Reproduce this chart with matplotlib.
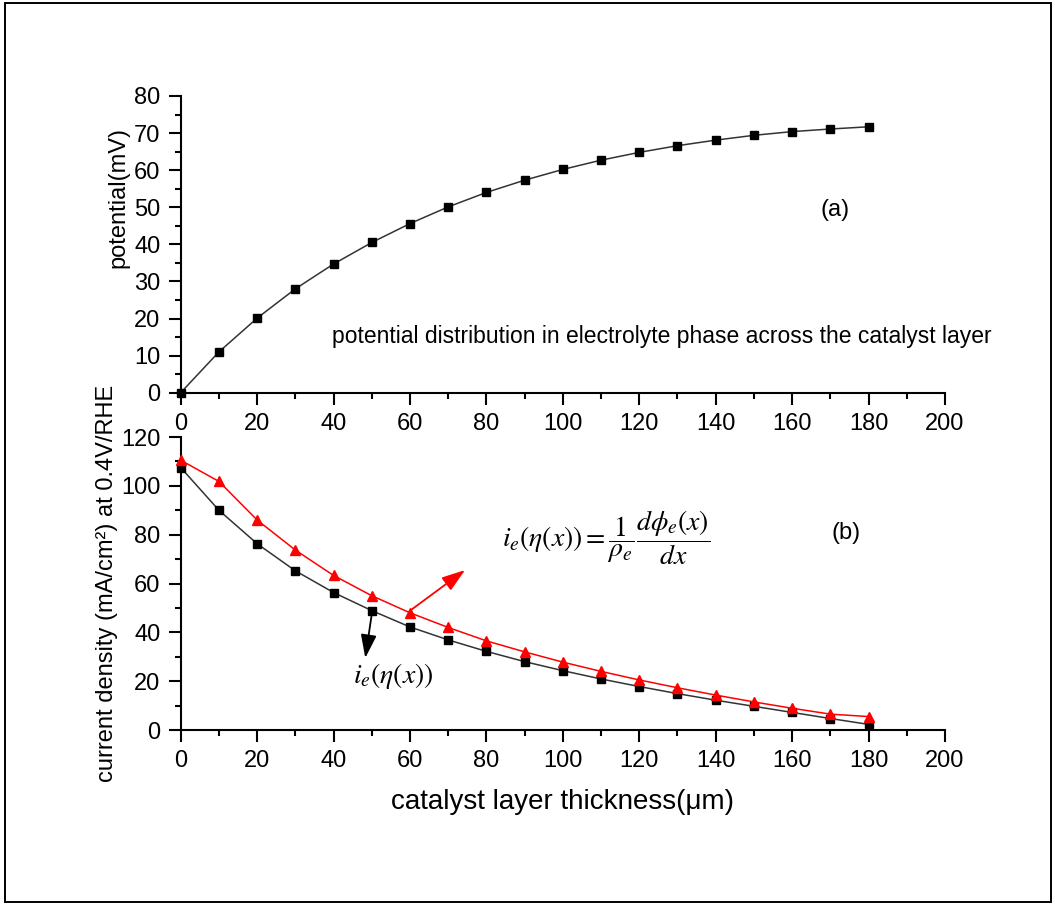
import matplotlib
matplotlib.use("Agg")
import matplotlib.pyplot as plt
from matplotlib.patches import Rectangle
from matplotlib.ticker import MultipleLocator

plt.rcParams['font.family'] = ['Liberation Sans', 'DejaVu Sans']
plt.rcParams['mathtext.fontset'] = 'stix'

# catalyst layer position (um)
thickness = [0, 10, 20, 30, 40, 50, 60, 70, 80, 90,
             100, 110, 120, 130, 140, 150, 160, 170, 180]

# (a) electrolyte-phase potential (mV)
potential = [0.0, 11.0, 20.1, 28.0, 34.7, 40.5, 45.6, 50.1, 54.0, 57.3,
             60.2, 62.7, 64.8, 66.6, 68.1, 69.4, 70.4, 71.1, 71.7]

# (b) current density (mA/cm2) at 0.4 V/RHE
current_eta = [107.5, 90.0, 76.3, 65.2, 56.3, 48.9, 42.2, 36.9, 32.2, 28.0,
               24.3, 20.9, 17.8, 14.9, 12.2, 9.7, 7.2, 4.7, 2.3]
current_phi = [110.5, 101.8, 86.0, 73.7, 63.3, 55.0, 48.0, 42.0, 36.5, 32.0,
               27.8, 24.0, 20.5, 17.3, 14.3, 11.5, 8.9, 6.5, 5.5]

W, H = 1055, 905
fig = plt.figure(figsize=(W / 100, H / 100), dpi=100)

# outer frame
fig.patches.append(Rectangle((5 / W, 3 / H), (1051 - 5) / W, (902 - 3) / H,
                             transform=fig.transFigure, fill=False,
                             edgecolor='black', lw=1.4))

x0, x1 = 180.7, 945.0
ax_a = fig.add_axes([x0 / W, 1 - 392.7 / H, (x1 - x0) / W, (392.7 - 96) / H])
ax_b = fig.add_axes([x0 / W, 1 - 730 / H, (x1 - x0) / W, (730 - 437) / H])

tick_fs = 17
for ax in (ax_a, ax_b):
    ax.patch.set_alpha(0)
    for s in ('top', 'right'):
        ax.spines[s].set_visible(False)
    for s in ('left', 'bottom'):
        ax.spines[s].set_linewidth(1.5)
    ax.set_xlim(0, 200)
    ax.xaxis.set_major_locator(MultipleLocator(20))
    ax.xaxis.set_minor_locator(MultipleLocator(10))
    ax.tick_params(which='major', direction='out', length=8.5, width=1.5,
                   labelsize=tick_fs, pad=6)
    ax.tick_params(which='minor', direction='out', length=4.5, width=1.5)
    ax.tick_params(axis='y', which='major', pad=6)

# (a) potential
ax_a.set_ylim(0, 80)
ax_a.yaxis.set_major_locator(MultipleLocator(10))
ax_a.yaxis.set_minor_locator(MultipleLocator(5))
ax_a.plot(thickness, potential, color='#333333', lw=1.1, marker='s',
          ms=5.5, mfc='black', mec='black', clip_on=False, zorder=3)
ax_a.text(171.2, 49.3, '(a)', fontsize=17, ha='center', va='center')
ax_a.text(39.6, 15.1,
          'potential distribution in electrolyte phase across the catalyst layer',
          fontsize=16.5, ha='left', va='center')

# (b) current density
ax_b.set_ylim(0, 120)
ax_b.yaxis.set_major_locator(MultipleLocator(20))
ax_b.yaxis.set_minor_locator(MultipleLocator(10))
ax_b.plot(thickness, current_eta, color='#333333', lw=1.1, marker='s',
          ms=5.5, mfc='black', mec='black', clip_on=False, zorder=3)
ax_b.plot(thickness, current_phi, color='red', lw=1.1, marker='^',
          ms=6.5, mfc='red', mec='red', clip_on=False, zorder=4)
ax_b.text(174, 80.6, '(b)', fontsize=17, ha='center', va='center')

head = '-|>,head_length=0.65,head_width=0.22'
ax_b.annotate('', xy=(74.4, 65.5), xytext=(60.3, 49.2),
              arrowprops=dict(arrowstyle=head, color='red', lw=1.3,
                              mutation_scale=22, shrinkA=0, shrinkB=0))
ax_b.annotate('', xy=(48.3, 29.5), xytext=(50.0, 47.5),
              arrowprops=dict(arrowstyle=head, color='black', lw=1.3,
                              mutation_scale=22, shrinkA=0, shrinkB=0))

ax_b.text(84.1, 78.6,
          r'$i_e(\eta(x))=\dfrac{1}{\rho_e}\dfrac{d\phi_e(x)}{dx}$',
          fontsize=20, ha='left', va='center')
ax_b.text(45.1, 22.0, r'$i_e(\eta(x))$', fontsize=20, ha='left', va='center')

ax_b.set_xlabel('catalyst layer thickness(\u03bcm)', fontsize=20, labelpad=12)

# y-axis titles
fig.text(118 / W, 1 - 197 / H, 'potential(mV)', rotation=90, fontsize=17,
         ha='center', va='center')
fig.text(107 / W, 1 - 583.5 / H, 'current density (mA/cm\u00b2) at 0.4V/RHE',
         rotation=90, fontsize=17, ha='center', va='center')

fig.savefig('out.png', dpi=100)
